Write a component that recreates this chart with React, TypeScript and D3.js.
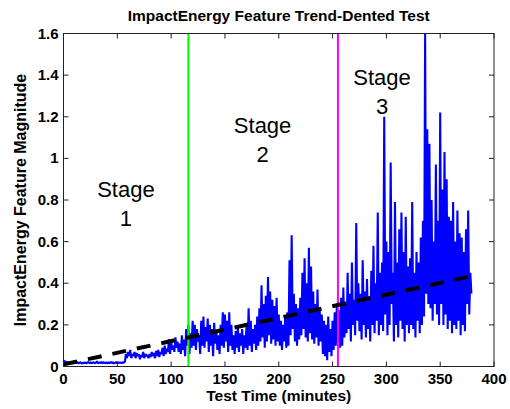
import React, { useEffect } from "react";
import * as d3 from "d3";

const W = 510;
const H = 409;

// Signal: one sample per minute, t = 0..379
const signal: number[] = [
  // 0-19
  0.03,0.02,0.025,0.015,0.02,0.018,0.022,0.016,0.02,0.015,0.018,0.02,0.016,0.022,0.015,0.018,0.02,0.014,0.018,0.016,
  // 20-39
  0.02,0.015,0.018,0.022,0.016,0.02,0.015,0.018,0.02,0.016,0.018,0.025,0.015,0.02,0.017,0.022,0.015,0.02,0.018,0.016,
  // 40-59
  0.02,0.015,0.019,0.017,0.022,0.016,0.02,0.015,0.018,0.021,0.016,0.02,0.017,0.019,0.016,0.02,0.018,0.022,0.06,0.04,
  // 60-79
  0.07,0.05,0.08,0.04,0.06,0.05,0.07,0.04,0.065,0.05,0.06,0.035,0.055,0.045,0.07,0.04,0.06,0.05,0.055,0.04,
  // 80-99
  0.06,0.045,0.07,0.05,0.065,0.04,0.075,0.05,0.08,0.045,0.07,0.06,0.09,0.05,0.1,0.06,0.085,0.07,0.13,0.06,
  // 100-119
  0.12,0.08,0.1,0.07,0.14,0.09,0.12,0.07,0.11,0.06,0.15,0.08,0.13,0.05,0.18,0.1,0.2,0.06,0.16,0.09,
  // 120-139
  0.22,0.1,0.2,0.08,0.18,0.12,0.15,0.06,0.22,0.1,0.24,0.09,0.19,0.12,0.23,0.07,0.2,0.1,0.18,0.05,
  // 140-159
  0.21,0.11,0.17,0.08,0.15,0.06,0.2,0.1,0.26,0.09,0.25,0.12,0.22,0.07,0.26,0.1,0.2,0.08,0.15,0.06,
  // 160-179
  0.17,0.09,0.19,0.07,0.16,0.1,0.18,0.06,0.15,0.09,0.19,0.08,0.28,0.1,0.22,0.07,0.18,0.11,0.2,0.08,
  // 180-199
  0.24,0.1,0.28,0.12,0.39,0.14,0.3,0.09,0.34,0.12,0.43,0.15,0.36,0.11,0.32,0.13,0.29,0.1,0.33,0.12,
  // 200-219
  0.25,0.1,0.22,0.08,0.2,0.12,0.24,0.09,0.26,0.1,0.51,0.15,0.63,0.18,0.35,0.12,0.3,0.1,0.28,0.13,
  // 220-239
  0.33,0.15,0.45,0.18,0.52,0.14,0.4,0.12,0.57,0.16,0.48,0.13,0.36,0.11,0.3,0.14,0.37,0.1,0.28,0.12,
  // 240-259
  0.25,0.06,0.22,0.05,0.2,0.03,0.24,0.07,0.18,0.05,0.22,0.08,0.26,0.1,0.3,0.12,0.27,0.09,0.33,0.1,
  // 260-279
  0.38,0.14,0.3,0.16,0.45,0.18,0.35,0.12,0.5,0.2,0.32,0.15,0.69,0.22,0.4,0.17,0.35,0.13,0.51,0.2,
  // 280-299
  0.36,0.14,0.42,0.18,0.33,0.12,0.46,0.2,0.58,0.16,0.4,0.22,0.74,0.15,0.45,0.2,0.5,0.17,1.2,0.25,
  // 300-319
  0.6,0.15,0.55,0.2,0.98,0.3,0.45,0.12,0.79,0.2,0.5,0.14,0.66,0.22,0.74,0.18,0.55,0.12,0.72,0.2,
  // 320-339
  0.48,0.16,0.52,0.2,0.79,0.18,0.45,0.14,0.55,0.22,0.5,0.16,0.62,0.2,0.7,0.24,1.6,0.35,1.14,0.3,
  // 340-359
  1.07,0.28,0.8,0.22,0.6,0.3,0.97,0.25,0.7,0.2,1.22,0.3,0.85,0.2,1.03,0.25,0.9,0.18,0.72,0.22,
  // 360-379
  0.7,0.16,0.79,0.2,0.6,0.18,0.75,0.22,0.64,0.15,0.62,0.2,0.55,0.17,0.66,0.3,0.75,0.25,0.45,0.35,
];

const trendX: number[] = [0, 380];
const trendY: number[] = [0.01, 0.435];

const stageBoundaries: number[] = [116, 255];
const stageColors: string[] = ["#00ff00", "#ff00ff"];

const stageNames: string[] = ["1", "2", "3"];
const stageLabelX: number[] = [58, 185, 296];
const stageLabelY: number[] = [0.816, 1.123, 1.353];

const xTicks: number[] = [0, 50, 100, 150, 200, 250, 300, 350, 400];
const yTicks: number[] = [0, 0.2, 0.4, 0.6, 0.8, 1, 1.2, 1.4, 1.6];

const title = "ImpactEnergy Feature Trend-Dented Test";
const xLabel = "Test Time (minutes)";
const yLabel = "ImpactEnergy Feature Magnitude";

const FONT = "'Liberation Sans', Arial, Helvetica, sans-serif";

export default function App() {
  useEffect(() => {
    document.body.style.margin = "0";
  }, []);

  const left = 63.5, right = 494, top = 33.5, bottom = 366.5;
  const x = d3.scaleLinear().domain([0, 400]).range([left, right]);
  const y = d3.scaleLinear().domain([0, 1.6]).range([bottom, top]);

  const line = d3
    .line<number>()
    .x((_, i) => x(i))
    .y((d) => y(d));
  const trendLine = d3
    .line<number>()
    .x((_, i) => x(trendX[i]))
    .y((d) => y(d));

  const tickLen = 5;

  return (
    <svg width={W} height={H} style={{ display: "block", background: "#fff" }} fontFamily={FONT}>
      <defs>
        <clipPath id="plotclip">
          <rect x={left} y={top} width={right - left} height={bottom - top} />
        </clipPath>
      </defs>

      <g clipPath="url(#plotclip)">
        <path d={line(signal) || ""} fill="none" stroke="#0000ff" strokeWidth={2.1} strokeLinejoin="bevel" />
        {stageBoundaries.map((b, i) => (
          <line key={i} x1={x(b)} x2={x(b)} y1={top} y2={bottom} stroke={stageColors[i]} strokeWidth={2} />
        ))}
        <path
          d={trendLine(trendY) || ""}
          fill="none"
          stroke="#000"
          strokeWidth={4}
          strokeDasharray="14,11"
        />
      </g>

      {/* axes box */}
      <rect x={left} y={top} width={right - left} height={bottom - top} fill="none" stroke="#222" strokeWidth={1} />

      {xTicks.map((t, i) => (
        <g key={"xt" + i}>
          <line x1={x(t)} x2={x(t)} y1={bottom} y2={bottom - tickLen} stroke="#222" />
          <line x1={x(t)} x2={x(t)} y1={top} y2={top + tickLen} stroke="#222" />
          <text x={x(t)} y={bottom + 17} textAnchor="middle" fontSize={15} fontWeight="bold">
            {String(t)}
          </text>
        </g>
      ))}
      {yTicks.map((t, i) => (
        <g key={"yt" + i}>
          <line x1={left} x2={left + tickLen} y1={y(t)} y2={y(t)} stroke="#222" />
          <line x1={right} x2={right - tickLen} y1={y(t)} y2={y(t)} stroke="#222" />
          <text x={left - 5} y={y(t) + 5} textAnchor="end" fontSize={15} fontWeight="bold">
            {String(t)}
          </text>
        </g>
      ))}

      {stageNames.map((n, i) => (
        <g key={"st" + i} fontSize={22} textAnchor="middle">
          <text x={x(stageLabelX[i])} y={y(stageLabelY[i])}>Stage</text>
          <text x={x(stageLabelX[i])} y={y(stageLabelY[i]) + 29}>{n}</text>
        </g>
      ))}

      <text x={(left + right) / 2} y={21} textAnchor="middle" fontSize={15.5} fontWeight="bold">
        {title}
      </text>
      <text x={(left + right) / 2} y={401} textAnchor="middle" fontSize={15.5} fontWeight="bold">
        {xLabel}
      </text>
      <text
        transform={`translate(26, ${(top + bottom) / 2}) rotate(-90)`}
        textAnchor="middle"
        fontSize={16}
        fontWeight="bold"
      >
        {yLabel}
      </text>
    </svg>
  );
}
